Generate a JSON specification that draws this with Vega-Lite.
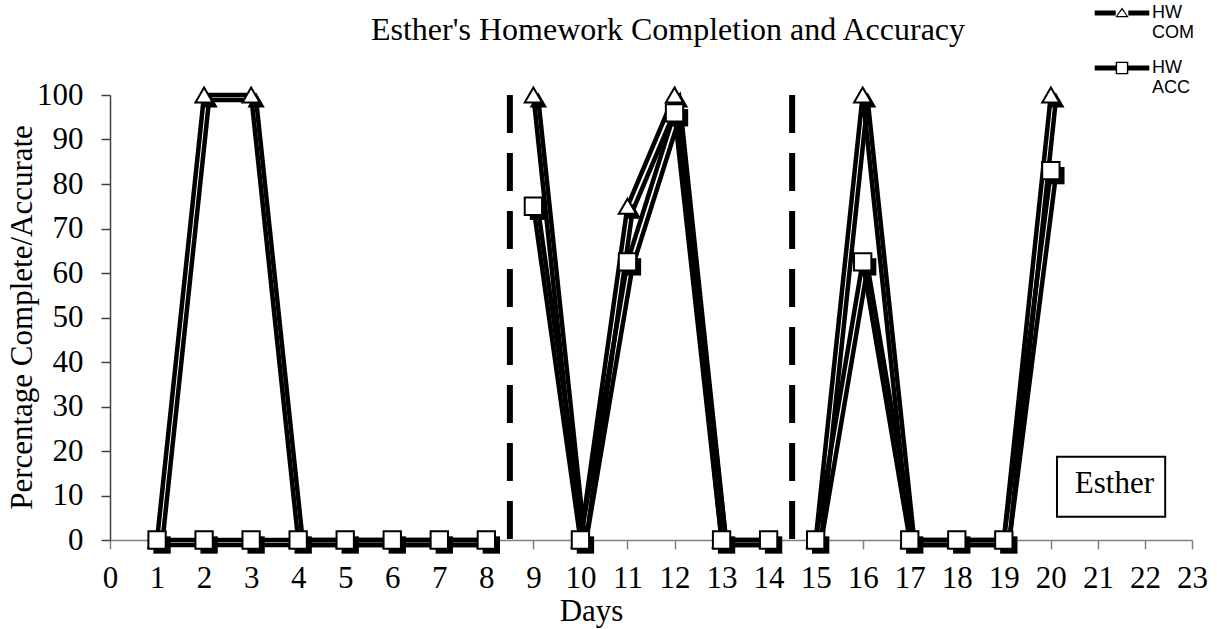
{
  "$schema": "https://vega.github.io/schema/vega-lite/v6.json",
  "width": 1082,
  "height": 445,
  "autosize": {"type": "none"},
  "padding": {"left": 110, "top": 95, "right": 25, "bottom": 89},
  "background": "white",
  "config": {
    "view": {"stroke": null},
    "font": "Liberation Serif",
    "axis": {
      "grid": false,
      "labelFont": "Liberation Serif",
      "labelFontSize": 31,
      "labelColor": "black",
      "titleFont": "Liberation Serif",
      "titleFontSize": 31,
      "titleFontWeight": "normal",
      "titleColor": "black",
      "tickSize": 9,
      "tickWidth": 1.5,
      "domainWidth": 1.5
    },
    "axisX": {
      "values": [0, 1, 2, 3, 4, 5, 6, 7, 8, 9, 10, 11, 12, 13, 14, 15, 16, 17, 18, 19, 20, 21, 22, 23],
      "domainColor": "#808080",
      "tickColor": "#808080",
      "labelPadding": 14,
      "labelFlush": false,
      "labelOverlap": false,
      "titleX": 481,
      "titleY": 56,
      "titleBaseline": "top"
    },
    "axisY": {
      "values": [0, 10, 20, 30, 40, 50, 60, 70, 80, 90, 100],
      "domainColor": "#404040",
      "tickColor": "#404040",
      "labelPadding": 18,
      "labelOverlap": false,
      "titleX": -88,
      "titleY": 222,
      "titleAngle": -90,
      "titleBaseline": "middle",
      "titleAlign": "center"
    }
  },
  "title": {
    "text": "Esther's Homework Completion and Accuracy",
    "font": "Liberation Serif",
    "fontSize": 32,
    "fontWeight": "normal",
    "color": "black",
    "anchor": "middle",
    "baseline": "alphabetic",
    "dx": 17,
    "dy": 78,
    "offset": 10
  },
  "datasets": {
    "hw": [
      {"day": 1, "pct": 0, "series": "HW COM", "phase": 1},
      {"day": 2, "pct": 100, "series": "HW COM", "phase": 1},
      {"day": 3, "pct": 100, "series": "HW COM", "phase": 1},
      {"day": 4, "pct": 0, "series": "HW COM", "phase": 1},
      {"day": 5, "pct": 0, "series": "HW COM", "phase": 1},
      {"day": 6, "pct": 0, "series": "HW COM", "phase": 1},
      {"day": 7, "pct": 0, "series": "HW COM", "phase": 1},
      {"day": 8, "pct": 0, "series": "HW COM", "phase": 1},
      {"day": 9, "pct": 100, "series": "HW COM", "phase": 2},
      {"day": 10, "pct": 0, "series": "HW COM", "phase": 2},
      {"day": 11, "pct": 75, "series": "HW COM", "phase": 2},
      {"day": 12, "pct": 100, "series": "HW COM", "phase": 2},
      {"day": 13, "pct": 0, "series": "HW COM", "phase": 2},
      {"day": 14, "pct": 0, "series": "HW COM", "phase": 2},
      {"day": 15, "pct": 0, "series": "HW COM", "phase": 3},
      {"day": 16, "pct": 100, "series": "HW COM", "phase": 3},
      {"day": 17, "pct": 0, "series": "HW COM", "phase": 3},
      {"day": 18, "pct": 0, "series": "HW COM", "phase": 3},
      {"day": 19, "pct": 0, "series": "HW COM", "phase": 3},
      {"day": 20, "pct": 100, "series": "HW COM", "phase": 3},
      {"day": 1, "pct": 0, "series": "HW ACC", "phase": 1},
      {"day": 2, "pct": 0, "series": "HW ACC", "phase": 1},
      {"day": 3, "pct": 0, "series": "HW ACC", "phase": 1},
      {"day": 4, "pct": 0, "series": "HW ACC", "phase": 1},
      {"day": 5, "pct": 0, "series": "HW ACC", "phase": 1},
      {"day": 6, "pct": 0, "series": "HW ACC", "phase": 1},
      {"day": 7, "pct": 0, "series": "HW ACC", "phase": 1},
      {"day": 8, "pct": 0, "series": "HW ACC", "phase": 1},
      {"day": 9, "pct": 75, "series": "HW ACC", "phase": 2},
      {"day": 10, "pct": 0, "series": "HW ACC", "phase": 2},
      {"day": 11, "pct": 62.5, "series": "HW ACC", "phase": 2},
      {"day": 12, "pct": 96, "series": "HW ACC", "phase": 2},
      {"day": 13, "pct": 0, "series": "HW ACC", "phase": 2},
      {"day": 14, "pct": 0, "series": "HW ACC", "phase": 2},
      {"day": 15, "pct": 0, "series": "HW ACC", "phase": 3},
      {"day": 16, "pct": 62.5, "series": "HW ACC", "phase": 3},
      {"day": 17, "pct": 0, "series": "HW ACC", "phase": 3},
      {"day": 18, "pct": 0, "series": "HW ACC", "phase": 3},
      {"day": 19, "pct": 0, "series": "HW ACC", "phase": 3},
      {"day": 20, "pct": 83, "series": "HW ACC", "phase": 3}
    ],
    "phases": [{"at": 8.5, "lo": 0, "hi": 100}, {"at": 14.5, "lo": 0, "hi": 100}],
    "note": [{"x1": 20.13, "x2": 22.43, "y1": 5.2, "y2": 18.7, "tx": 21.35, "ty": 10.6, "label": "Esther"}]
  },
  "resolve": {"scale": {"shape": "independent"}, "legend": {"shape": "independent"}},
  "layer": [
    {
      "data": {"name": "phases"},
      "mark": {"type": "rule", "strokeWidth": 6, "strokeDash": [38, 20], "color": "black"},
      "encoding": {
        "x": {"field": "at", "type": "quantitative", "title": "Days", "scale": {"domain": [0, 23], "nice": false}},
        "y": {"field": "hi", "type": "quantitative", "title": "Percentage Complete/Accurate", "scale": {"domain": [0, 100], "nice": false}},
        "y2": {"field": "lo"}
      }
    },
    {
      "data": {"name": "hw"},
      "mark": {"type": "line", "strokeWidth": 4.5, "color": "black", "xOffset": 5, "yOffset": 5},
      "encoding": {
        "x": {"field": "day", "type": "quantitative", "title": "Days"},
        "y": {"field": "pct", "type": "quantitative", "title": "Percentage Complete/Accurate"},
        "detail": [{"field": "series"}, {"field": "phase"}]
      }
    },
    {
      "data": {"name": "hw"},
      "mark": {"type": "point", "filled": true, "color": "black", "xOffset": 5, "yOffset": 5, "opacity": 1, "size": 300},
      "encoding": {
        "x": {"field": "day", "type": "quantitative", "title": "Days"},
        "y": {"field": "pct", "type": "quantitative", "title": "Percentage Complete/Accurate"},
        "shape": {"field": "series", "type": "nominal", "scale": {"domain": ["HW COM", "HW ACC"], "range": ["triangle-up", "square"]}, "legend": null}
      }
    },
    {
      "data": {"name": "hw"},
      "mark": {"type": "line", "strokeWidth": 4.5, "color": "black"},
      "encoding": {
        "x": {"field": "day", "type": "quantitative", "title": "Days"},
        "y": {"field": "pct", "type": "quantitative", "title": "Percentage Complete/Accurate"},
        "detail": [{"field": "series"}, {"field": "phase"}]
      }
    },
    {
      "data": {"name": "hw"},
      "mark": {"type": "point", "filled": false, "fill": "white", "stroke": "black", "strokeWidth": 2, "opacity": 1, "fillOpacity": 1, "size": 300},
      "encoding": {
        "x": {"field": "day", "type": "quantitative", "title": "Days"},
        "y": {"field": "pct", "type": "quantitative", "title": "Percentage Complete/Accurate"},
        "shape": {"field": "series", "type": "nominal", "scale": {"domain": ["HW COM", "HW ACC"], "range": ["triangle-up", "square"]}, "legend": null}
      }
    },
    {
      "data": {"name": "hw"},
      "transform": [{"filter": "false"}],
      "mark": {"type": "point", "filled": true, "color": "black", "opacity": 1, "strokeWidth": 0},
      "encoding": {
        "x": {"field": "day", "type": "quantitative", "title": "Days"},
        "y": {"field": "pct", "type": "quantitative", "title": "Percentage Complete/Accurate"},
        "shape": {
          "field": "series",
          "type": "nominal",
          "scale": {
            "domain": ["HW COM", "HW ACC"],
            "range": [
              "M-3.9,-0.34H-0.9V0.34H-3.9Z M0.9,-0.34H3.9V0.34H0.9Z M0,-0.8L0.95,0.6H-0.95Z M0,-0.45L-0.65,0.42H0.65Z",
              "M-3.9,-0.34H-0.9V0.34H-3.9Z M0.9,-0.34H3.9V0.34H0.9Z M-0.9,-0.9H0.9V0.9H-0.9Z M-0.7,-0.7V0.7H0.7V-0.7Z"
            ]
          },
          "legend": {
            "orient": "none",
            "legendX": 1003,
            "legendY": -91,
            "title": null,
            "labelExpr": "split(datum.label, ' ')",
            "labelFont": "Liberation Sans",
            "labelFontSize": 18,
            "labelLineHeight": 22,
            "labelColor": "black",
            "labelBaseline": "middle",
            "labelOffset": 21,
            "symbolSize": 196,
            "symbolStrokeWidth": 0,
            "symbolFillColor": "black",
            "symbolOpacity": 1,
            "rowPadding": 17,
            "labelLimit": 200
          }
        }
      }
    },
    {
      "data": {"name": "note"},
      "mark": {"type": "rect", "fill": "white", "stroke": "black", "strokeWidth": 2},
      "encoding": {
        "x": {"field": "x1", "type": "quantitative", "title": "Days"},
        "x2": {"field": "x2"},
        "y": {"field": "y1", "type": "quantitative", "title": "Percentage Complete/Accurate"},
        "y2": {"field": "y2"}
      }
    },
    {
      "data": {"name": "note"},
      "mark": {"type": "text", "font": "Liberation Serif", "fontSize": 31, "color": "black", "baseline": "alphabetic", "align": "center"},
      "encoding": {
        "x": {"field": "tx", "type": "quantitative", "title": "Days"},
        "y": {"field": "ty", "type": "quantitative", "title": "Percentage Complete/Accurate"},
        "text": {"field": "label"}
      }
    }
  ]
}
